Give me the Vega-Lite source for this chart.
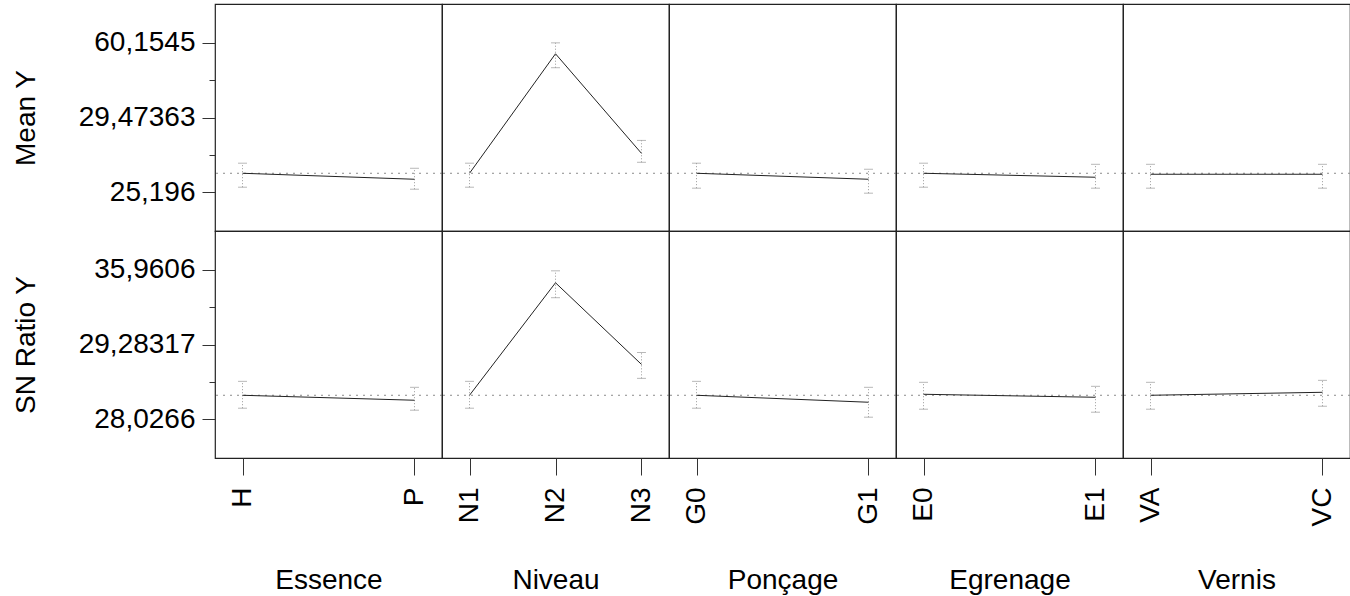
{
  "$schema": "https://vega.github.io/schema/vega-lite/v6.json",
  "padding": {"left": 11, "top": 3, "right": 0, "bottom": 0},
  "autosize": {"type": "pad"},
  "background": "white",
  "spacing": 0,
  "bounds": "flush",
  "columns": 5,
  "config": {
    "font": "Liberation Sans",
    "axis": {"labelFontSize": 28, "titleFontSize": 28, "titleFontWeight": "normal", "labelColor": "#000", "titleColor": "#000", "tickColor": "#333", "domain": false, "grid": false, "labelFont": "Liberation Sans", "titleFont": "Liberation Sans"},
    "view": {"stroke": "#222", "strokeWidth": 1.2},
    "concat": {"spacing": 0}
  },
  "datasets": {
    "overall": [
      {"measure": "Mean Y", "mean": 29.62},
      {"measure": "SN Ratio Y", "mean": 29.296}
    ],
    "means": [
      {"measure": "Mean Y", "factor": "Essence", "level": "H", "mean": 29.62, "lo": 26.36, "hi": 31.98},
      {"measure": "Mean Y", "factor": "Essence", "level": "P", "mean": 28.22, "lo": 25.89, "hi": 30.79},
      {"measure": "Mean Y", "factor": "Niveau", "level": "N1", "mean": 29.62, "lo": 26.36, "hi": 31.98},
      {"measure": "Mean Y", "factor": "Niveau", "level": "N2", "mean": 57.59, "lo": 54.33, "hi": 60.15},
      {"measure": "Mean Y", "factor": "Niveau", "level": "N3", "mean": 34.28, "lo": 32.19, "hi": 37.31},
      {"measure": "Mean Y", "factor": "Ponçage", "level": "G0", "mean": 29.62, "lo": 26.13, "hi": 31.98},
      {"measure": "Mean Y", "factor": "Ponçage", "level": "G1", "mean": 28.22, "lo": 24.96, "hi": 30.56},
      {"measure": "Mean Y", "factor": "Egrenage", "level": "E0", "mean": 29.62, "lo": 26.36, "hi": 31.98},
      {"measure": "Mean Y", "factor": "Egrenage", "level": "E1", "mean": 28.69, "lo": 26.13, "hi": 31.72},
      {"measure": "Mean Y", "factor": "Vernis", "level": "VA", "mean": 29.39, "lo": 26.13, "hi": 31.72},
      {"measure": "Mean Y", "factor": "Vernis", "level": "VC", "mean": 29.39, "lo": 26.13, "hi": 31.72},
      {"measure": "SN Ratio Y", "factor": "Essence", "level": "H", "mean": 29.296, "lo": 28.609, "hi": 30.036},
      {"measure": "SN Ratio Y", "factor": "Essence", "level": "P", "mean": 29.032, "lo": 28.503, "hi": 29.719},
      {"measure": "SN Ratio Y", "factor": "Niveau", "level": "N1", "mean": 29.296, "lo": 28.609, "hi": 30.036},
      {"measure": "SN Ratio Y", "factor": "Niveau", "level": "N2", "mean": 35.273, "lo": 34.48, "hi": 35.908},
      {"measure": "SN Ratio Y", "factor": "Niveau", "level": "N3", "mean": 30.936, "lo": 30.195, "hi": 31.57},
      {"measure": "SN Ratio Y", "factor": "Ponçage", "level": "G0", "mean": 29.296, "lo": 28.609, "hi": 30.036},
      {"measure": "SN Ratio Y", "factor": "Ponçage", "level": "G1", "mean": 28.926, "lo": 28.132, "hi": 29.719},
      {"measure": "SN Ratio Y", "factor": "Egrenage", "level": "E0", "mean": 29.349, "lo": 28.556, "hi": 29.984},
      {"measure": "SN Ratio Y", "factor": "Egrenage", "level": "E1", "mean": 29.19, "lo": 28.397, "hi": 29.772},
      {"measure": "SN Ratio Y", "factor": "Vernis", "level": "VA", "mean": 29.296, "lo": 28.556, "hi": 29.984},
      {"measure": "SN Ratio Y", "factor": "Vernis", "level": "VC", "mean": 29.455, "lo": 28.714, "hi": 30.089}
    ]
  },
  "resolve": {"scale": {"x": "independent", "y": "independent"}},
  "concat": [
        {
          "width": 227, "height": 227,
          "data": {"name": "means"},
          "encoding": {"y": {"field": "mean", "type": "quantitative", "scale": {"domain": [16.107, 69.2437], "nice": false, "zero": false},
            "axis": {"title": "Mean Y", "values": [25.196, 33.9356, 42.6753, 51.4149, 60.1545],
              "labelExpr": "datum.value == 25.196 ? '25,196' : datum.value == 42.6753 ? '29,47363' : datum.value == 60.1545 ? '60,1545' : ''",
              "tickSize": {"condition": {"test": "datum.value == 33.9356 || datum.value == 51.4149", "value": 6}, "value": 13},
              "labelPadding": 7, "titleX": -181, "titleY": 113.5, "titleBaseline": "alphabetic", "titleAlign": "center", "titleAngle": 270}}},
          "layer": [
            {"data": {"name": "overall"}, "transform": [{"filter": "datum.measure === 'Mean Y'"}], "mark": {"type": "rule", "color": "#8c8c8c", "strokeDash": [2, 5]}, "encoding": {}},
            {"transform": [{"filter": "datum.measure === 'Mean Y' && datum.factor === 'Essence'"}], "mark": {"type": "rule", "color": "#9a9a9a", "strokeDash": [1, 2]},
             "encoding": {"x": {"field": "level", "type": "ordinal", "scale": {"type": "point", "domain": ["H", "P"], "padding": 0.16}, "axis": null}, "y": {"field": "lo", "type": "quantitative"}, "y2": {"field": "hi"}}},
            {"transform": [{"filter": "datum.measure === 'Mean Y' && datum.factor === 'Essence'"}], "mark": {"type": "tick", "size": 9, "thickness": 1, "color": "#9a9a9a"},
             "encoding": {"x": {"field": "level", "type": "ordinal", "scale": {"type": "point", "domain": ["H", "P"], "padding": 0.16}, "axis": null}, "y": {"field": "lo", "type": "quantitative"}}},
            {"transform": [{"filter": "datum.measure === 'Mean Y' && datum.factor === 'Essence'"}], "mark": {"type": "tick", "size": 9, "thickness": 1, "color": "#9a9a9a"},
             "encoding": {"x": {"field": "level", "type": "ordinal", "scale": {"type": "point", "domain": ["H", "P"], "padding": 0.16}, "axis": null}, "y": {"field": "hi", "type": "quantitative"}}},
            {"transform": [{"filter": "datum.measure === 'Mean Y' && datum.factor === 'Essence'"}], "mark": {"type": "line", "color": "#222", "strokeWidth": 1},
             "encoding": {"x": {"field": "level", "type": "ordinal", "scale": {"type": "point", "domain": ["H", "P"], "padding": 0.16}, "axis": null}}}
          ]
        },
        {
          "width": 227, "height": 227,
          "data": {"name": "means"},
          "encoding": {"y": {"field": "mean", "type": "quantitative", "scale": {"domain": [16.107, 69.2437], "nice": false, "zero": false}, "axis": null}},
          "layer": [
            {"data": {"name": "overall"}, "transform": [{"filter": "datum.measure === 'Mean Y'"}], "mark": {"type": "rule", "color": "#8c8c8c", "strokeDash": [2, 5]}, "encoding": {}},
            {"transform": [{"filter": "datum.measure === 'Mean Y' && datum.factor === 'Niveau'"}], "mark": {"type": "rule", "color": "#9a9a9a", "strokeDash": [1, 2]},
             "encoding": {"x": {"field": "level", "type": "ordinal", "scale": {"type": "point", "domain": ["N1", "N2", "N3"], "padding": 0.32}, "axis": null}, "y": {"field": "lo", "type": "quantitative", "axis": null}, "y2": {"field": "hi"}}},
            {"transform": [{"filter": "datum.measure === 'Mean Y' && datum.factor === 'Niveau'"}], "mark": {"type": "tick", "size": 9, "thickness": 1, "color": "#9a9a9a"},
             "encoding": {"x": {"field": "level", "type": "ordinal", "scale": {"type": "point", "domain": ["N1", "N2", "N3"], "padding": 0.32}, "axis": null}, "y": {"field": "lo", "type": "quantitative", "axis": null}}},
            {"transform": [{"filter": "datum.measure === 'Mean Y' && datum.factor === 'Niveau'"}], "mark": {"type": "tick", "size": 9, "thickness": 1, "color": "#9a9a9a"},
             "encoding": {"x": {"field": "level", "type": "ordinal", "scale": {"type": "point", "domain": ["N1", "N2", "N3"], "padding": 0.32}, "axis": null}, "y": {"field": "hi", "type": "quantitative", "axis": null}}},
            {"transform": [{"filter": "datum.measure === 'Mean Y' && datum.factor === 'Niveau'"}], "mark": {"type": "line", "color": "#222", "strokeWidth": 1},
             "encoding": {"x": {"field": "level", "type": "ordinal", "scale": {"type": "point", "domain": ["N1", "N2", "N3"], "padding": 0.32}, "axis": null}}}
          ]
        },
        {
          "width": 227, "height": 227,
          "data": {"name": "means"},
          "encoding": {"y": {"field": "mean", "type": "quantitative", "scale": {"domain": [16.107, 69.2437], "nice": false, "zero": false}, "axis": null}},
          "layer": [
            {"data": {"name": "overall"}, "transform": [{"filter": "datum.measure === 'Mean Y'"}], "mark": {"type": "rule", "color": "#8c8c8c", "strokeDash": [2, 5]}, "encoding": {}},
            {"transform": [{"filter": "datum.measure === 'Mean Y' && datum.factor === 'Ponçage'"}], "mark": {"type": "rule", "color": "#9a9a9a", "strokeDash": [1, 2]},
             "encoding": {"x": {"field": "level", "type": "ordinal", "scale": {"type": "point", "domain": ["G0", "G1"], "padding": 0.16}, "axis": null}, "y": {"field": "lo", "type": "quantitative", "axis": null}, "y2": {"field": "hi"}}},
            {"transform": [{"filter": "datum.measure === 'Mean Y' && datum.factor === 'Ponçage'"}], "mark": {"type": "tick", "size": 9, "thickness": 1, "color": "#9a9a9a"},
             "encoding": {"x": {"field": "level", "type": "ordinal", "scale": {"type": "point", "domain": ["G0", "G1"], "padding": 0.16}, "axis": null}, "y": {"field": "lo", "type": "quantitative", "axis": null}}},
            {"transform": [{"filter": "datum.measure === 'Mean Y' && datum.factor === 'Ponçage'"}], "mark": {"type": "tick", "size": 9, "thickness": 1, "color": "#9a9a9a"},
             "encoding": {"x": {"field": "level", "type": "ordinal", "scale": {"type": "point", "domain": ["G0", "G1"], "padding": 0.16}, "axis": null}, "y": {"field": "hi", "type": "quantitative", "axis": null}}},
            {"transform": [{"filter": "datum.measure === 'Mean Y' && datum.factor === 'Ponçage'"}], "mark": {"type": "line", "color": "#222", "strokeWidth": 1},
             "encoding": {"x": {"field": "level", "type": "ordinal", "scale": {"type": "point", "domain": ["G0", "G1"], "padding": 0.16}, "axis": null}}}
          ]
        },
        {
          "width": 227, "height": 227,
          "data": {"name": "means"},
          "encoding": {"y": {"field": "mean", "type": "quantitative", "scale": {"domain": [16.107, 69.2437], "nice": false, "zero": false}, "axis": null}},
          "layer": [
            {"data": {"name": "overall"}, "transform": [{"filter": "datum.measure === 'Mean Y'"}], "mark": {"type": "rule", "color": "#8c8c8c", "strokeDash": [2, 5]}, "encoding": {}},
            {"transform": [{"filter": "datum.measure === 'Mean Y' && datum.factor === 'Egrenage'"}], "mark": {"type": "rule", "color": "#9a9a9a", "strokeDash": [1, 2]},
             "encoding": {"x": {"field": "level", "type": "ordinal", "scale": {"type": "point", "domain": ["E0", "E1"], "padding": 0.16}, "axis": null}, "y": {"field": "lo", "type": "quantitative", "axis": null}, "y2": {"field": "hi"}}},
            {"transform": [{"filter": "datum.measure === 'Mean Y' && datum.factor === 'Egrenage'"}], "mark": {"type": "tick", "size": 9, "thickness": 1, "color": "#9a9a9a"},
             "encoding": {"x": {"field": "level", "type": "ordinal", "scale": {"type": "point", "domain": ["E0", "E1"], "padding": 0.16}, "axis": null}, "y": {"field": "lo", "type": "quantitative", "axis": null}}},
            {"transform": [{"filter": "datum.measure === 'Mean Y' && datum.factor === 'Egrenage'"}], "mark": {"type": "tick", "size": 9, "thickness": 1, "color": "#9a9a9a"},
             "encoding": {"x": {"field": "level", "type": "ordinal", "scale": {"type": "point", "domain": ["E0", "E1"], "padding": 0.16}, "axis": null}, "y": {"field": "hi", "type": "quantitative", "axis": null}}},
            {"transform": [{"filter": "datum.measure === 'Mean Y' && datum.factor === 'Egrenage'"}], "mark": {"type": "line", "color": "#222", "strokeWidth": 1},
             "encoding": {"x": {"field": "level", "type": "ordinal", "scale": {"type": "point", "domain": ["E0", "E1"], "padding": 0.16}, "axis": null}}}
          ]
        },
        {
          "width": 227, "height": 227,
          "data": {"name": "means"},
          "encoding": {"y": {"field": "mean", "type": "quantitative", "scale": {"domain": [16.107, 69.2437], "nice": false, "zero": false}, "axis": null}},
          "layer": [
            {"data": {"name": "overall"}, "transform": [{"filter": "datum.measure === 'Mean Y'"}], "mark": {"type": "rule", "color": "#8c8c8c", "strokeDash": [2, 5]}, "encoding": {}},
            {"transform": [{"filter": "datum.measure === 'Mean Y' && datum.factor === 'Vernis'"}], "mark": {"type": "rule", "color": "#9a9a9a", "strokeDash": [1, 2]},
             "encoding": {"x": {"field": "level", "type": "ordinal", "scale": {"type": "point", "domain": ["VA", "VC"], "padding": 0.16}, "axis": null}, "y": {"field": "lo", "type": "quantitative", "axis": null}, "y2": {"field": "hi"}}},
            {"transform": [{"filter": "datum.measure === 'Mean Y' && datum.factor === 'Vernis'"}], "mark": {"type": "tick", "size": 9, "thickness": 1, "color": "#9a9a9a"},
             "encoding": {"x": {"field": "level", "type": "ordinal", "scale": {"type": "point", "domain": ["VA", "VC"], "padding": 0.16}, "axis": null}, "y": {"field": "lo", "type": "quantitative", "axis": null}}},
            {"transform": [{"filter": "datum.measure === 'Mean Y' && datum.factor === 'Vernis'"}], "mark": {"type": "tick", "size": 9, "thickness": 1, "color": "#9a9a9a"},
             "encoding": {"x": {"field": "level", "type": "ordinal", "scale": {"type": "point", "domain": ["VA", "VC"], "padding": 0.16}, "axis": null}, "y": {"field": "hi", "type": "quantitative", "axis": null}}},
            {"transform": [{"filter": "datum.measure === 'Mean Y' && datum.factor === 'Vernis'"}], "mark": {"type": "line", "color": "#222", "strokeWidth": 1},
             "encoding": {"x": {"field": "level", "type": "ordinal", "scale": {"type": "point", "domain": ["VA", "VC"], "padding": 0.16}, "axis": null}}}
          ]
        },
        {
          "width": 227, "height": 227,
          "data": {"name": "means"},
          "encoding": {"y": {"field": "mean", "type": "quantitative", "scale": {"domain": [25.9638, 38.0234], "nice": false, "zero": false},
            "axis": {"title": "SN Ratio Y", "values": [28.0266, 30.0101, 31.9936, 33.9771, 35.9606],
              "labelExpr": "datum.value == 28.0266 ? '28,0266' : datum.value == 31.9936 ? '29,28317' : datum.value == 35.9606 ? '35,9606' : ''",
              "tickSize": {"condition": {"test": "datum.value == 30.0101 || datum.value == 33.9771", "value": 6}, "value": 13},
              "labelPadding": 7, "titleX": -181, "titleY": 113.5, "titleBaseline": "alphabetic", "titleAlign": "center", "titleAngle": 270}}},
          "layer": [
            {"data": {"name": "overall"}, "transform": [{"filter": "datum.measure === 'SN Ratio Y'"}], "mark": {"type": "rule", "color": "#8c8c8c", "strokeDash": [2, 5]}, "encoding": {}},
            {"transform": [{"filter": "datum.measure === 'SN Ratio Y' && datum.factor === 'Essence'"}], "mark": {"type": "rule", "color": "#9a9a9a", "strokeDash": [1, 2]},
             "encoding": {"x": {"field": "level", "type": "ordinal", "scale": {"type": "point", "domain": ["H", "P"], "padding": 0.16}, "axis": {"title": "Essence", "labelAngle": 270, "tickSize": 17, "labelPadding": 12, "titleY": 130, "titleBaseline": "alphabetic"}}, "y": {"field": "lo", "type": "quantitative"}, "y2": {"field": "hi"}}},
            {"transform": [{"filter": "datum.measure === 'SN Ratio Y' && datum.factor === 'Essence'"}], "mark": {"type": "tick", "size": 9, "thickness": 1, "color": "#9a9a9a"},
             "encoding": {"x": {"field": "level", "type": "ordinal", "scale": {"type": "point", "domain": ["H", "P"], "padding": 0.16}}, "y": {"field": "lo", "type": "quantitative"}}},
            {"transform": [{"filter": "datum.measure === 'SN Ratio Y' && datum.factor === 'Essence'"}], "mark": {"type": "tick", "size": 9, "thickness": 1, "color": "#9a9a9a"},
             "encoding": {"x": {"field": "level", "type": "ordinal", "scale": {"type": "point", "domain": ["H", "P"], "padding": 0.16}}, "y": {"field": "hi", "type": "quantitative"}}},
            {"transform": [{"filter": "datum.measure === 'SN Ratio Y' && datum.factor === 'Essence'"}], "mark": {"type": "line", "color": "#222", "strokeWidth": 1},
             "encoding": {"x": {"field": "level", "type": "ordinal", "scale": {"type": "point", "domain": ["H", "P"], "padding": 0.16}}}}
          ]
        },
        {
          "width": 227, "height": 227,
          "data": {"name": "means"},
          "encoding": {"y": {"field": "mean", "type": "quantitative", "scale": {"domain": [25.9638, 38.0234], "nice": false, "zero": false}, "axis": null}},
          "layer": [
            {"data": {"name": "overall"}, "transform": [{"filter": "datum.measure === 'SN Ratio Y'"}], "mark": {"type": "rule", "color": "#8c8c8c", "strokeDash": [2, 5]}, "encoding": {}},
            {"transform": [{"filter": "datum.measure === 'SN Ratio Y' && datum.factor === 'Niveau'"}], "mark": {"type": "rule", "color": "#9a9a9a", "strokeDash": [1, 2]},
             "encoding": {"x": {"field": "level", "type": "ordinal", "scale": {"type": "point", "domain": ["N1", "N2", "N3"], "padding": 0.32}, "axis": {"title": "Niveau", "labelAngle": 270, "tickSize": 17, "labelPadding": 12, "titleY": 130, "titleBaseline": "alphabetic"}}, "y": {"field": "lo", "type": "quantitative", "axis": null}, "y2": {"field": "hi"}}},
            {"transform": [{"filter": "datum.measure === 'SN Ratio Y' && datum.factor === 'Niveau'"}], "mark": {"type": "tick", "size": 9, "thickness": 1, "color": "#9a9a9a"},
             "encoding": {"x": {"field": "level", "type": "ordinal", "scale": {"type": "point", "domain": ["N1", "N2", "N3"], "padding": 0.32}}, "y": {"field": "lo", "type": "quantitative", "axis": null}}},
            {"transform": [{"filter": "datum.measure === 'SN Ratio Y' && datum.factor === 'Niveau'"}], "mark": {"type": "tick", "size": 9, "thickness": 1, "color": "#9a9a9a"},
             "encoding": {"x": {"field": "level", "type": "ordinal", "scale": {"type": "point", "domain": ["N1", "N2", "N3"], "padding": 0.32}}, "y": {"field": "hi", "type": "quantitative", "axis": null}}},
            {"transform": [{"filter": "datum.measure === 'SN Ratio Y' && datum.factor === 'Niveau'"}], "mark": {"type": "line", "color": "#222", "strokeWidth": 1},
             "encoding": {"x": {"field": "level", "type": "ordinal", "scale": {"type": "point", "domain": ["N1", "N2", "N3"], "padding": 0.32}}}}
          ]
        },
        {
          "width": 227, "height": 227,
          "data": {"name": "means"},
          "encoding": {"y": {"field": "mean", "type": "quantitative", "scale": {"domain": [25.9638, 38.0234], "nice": false, "zero": false}, "axis": null}},
          "layer": [
            {"data": {"name": "overall"}, "transform": [{"filter": "datum.measure === 'SN Ratio Y'"}], "mark": {"type": "rule", "color": "#8c8c8c", "strokeDash": [2, 5]}, "encoding": {}},
            {"transform": [{"filter": "datum.measure === 'SN Ratio Y' && datum.factor === 'Ponçage'"}], "mark": {"type": "rule", "color": "#9a9a9a", "strokeDash": [1, 2]},
             "encoding": {"x": {"field": "level", "type": "ordinal", "scale": {"type": "point", "domain": ["G0", "G1"], "padding": 0.16}, "axis": {"title": "Ponçage", "labelAngle": 270, "tickSize": 17, "labelPadding": 12, "titleY": 130, "titleBaseline": "alphabetic"}}, "y": {"field": "lo", "type": "quantitative", "axis": null}, "y2": {"field": "hi"}}},
            {"transform": [{"filter": "datum.measure === 'SN Ratio Y' && datum.factor === 'Ponçage'"}], "mark": {"type": "tick", "size": 9, "thickness": 1, "color": "#9a9a9a"},
             "encoding": {"x": {"field": "level", "type": "ordinal", "scale": {"type": "point", "domain": ["G0", "G1"], "padding": 0.16}}, "y": {"field": "lo", "type": "quantitative", "axis": null}}},
            {"transform": [{"filter": "datum.measure === 'SN Ratio Y' && datum.factor === 'Ponçage'"}], "mark": {"type": "tick", "size": 9, "thickness": 1, "color": "#9a9a9a"},
             "encoding": {"x": {"field": "level", "type": "ordinal", "scale": {"type": "point", "domain": ["G0", "G1"], "padding": 0.16}}, "y": {"field": "hi", "type": "quantitative", "axis": null}}},
            {"transform": [{"filter": "datum.measure === 'SN Ratio Y' && datum.factor === 'Ponçage'"}], "mark": {"type": "line", "color": "#222", "strokeWidth": 1},
             "encoding": {"x": {"field": "level", "type": "ordinal", "scale": {"type": "point", "domain": ["G0", "G1"], "padding": 0.16}}}}
          ]
        },
        {
          "width": 227, "height": 227,
          "data": {"name": "means"},
          "encoding": {"y": {"field": "mean", "type": "quantitative", "scale": {"domain": [25.9638, 38.0234], "nice": false, "zero": false}, "axis": null}},
          "layer": [
            {"data": {"name": "overall"}, "transform": [{"filter": "datum.measure === 'SN Ratio Y'"}], "mark": {"type": "rule", "color": "#8c8c8c", "strokeDash": [2, 5]}, "encoding": {}},
            {"transform": [{"filter": "datum.measure === 'SN Ratio Y' && datum.factor === 'Egrenage'"}], "mark": {"type": "rule", "color": "#9a9a9a", "strokeDash": [1, 2]},
             "encoding": {"x": {"field": "level", "type": "ordinal", "scale": {"type": "point", "domain": ["E0", "E1"], "padding": 0.16}, "axis": {"title": "Egrenage", "labelAngle": 270, "tickSize": 17, "labelPadding": 12, "titleY": 130, "titleBaseline": "alphabetic"}}, "y": {"field": "lo", "type": "quantitative", "axis": null}, "y2": {"field": "hi"}}},
            {"transform": [{"filter": "datum.measure === 'SN Ratio Y' && datum.factor === 'Egrenage'"}], "mark": {"type": "tick", "size": 9, "thickness": 1, "color": "#9a9a9a"},
             "encoding": {"x": {"field": "level", "type": "ordinal", "scale": {"type": "point", "domain": ["E0", "E1"], "padding": 0.16}}, "y": {"field": "lo", "type": "quantitative", "axis": null}}},
            {"transform": [{"filter": "datum.measure === 'SN Ratio Y' && datum.factor === 'Egrenage'"}], "mark": {"type": "tick", "size": 9, "thickness": 1, "color": "#9a9a9a"},
             "encoding": {"x": {"field": "level", "type": "ordinal", "scale": {"type": "point", "domain": ["E0", "E1"], "padding": 0.16}}, "y": {"field": "hi", "type": "quantitative", "axis": null}}},
            {"transform": [{"filter": "datum.measure === 'SN Ratio Y' && datum.factor === 'Egrenage'"}], "mark": {"type": "line", "color": "#222", "strokeWidth": 1},
             "encoding": {"x": {"field": "level", "type": "ordinal", "scale": {"type": "point", "domain": ["E0", "E1"], "padding": 0.16}}}}
          ]
        },
        {
          "width": 227, "height": 227,
          "data": {"name": "means"},
          "encoding": {"y": {"field": "mean", "type": "quantitative", "scale": {"domain": [25.9638, 38.0234], "nice": false, "zero": false}, "axis": null}},
          "layer": [
            {"data": {"name": "overall"}, "transform": [{"filter": "datum.measure === 'SN Ratio Y'"}], "mark": {"type": "rule", "color": "#8c8c8c", "strokeDash": [2, 5]}, "encoding": {}},
            {"transform": [{"filter": "datum.measure === 'SN Ratio Y' && datum.factor === 'Vernis'"}], "mark": {"type": "rule", "color": "#9a9a9a", "strokeDash": [1, 2]},
             "encoding": {"x": {"field": "level", "type": "ordinal", "scale": {"type": "point", "domain": ["VA", "VC"], "padding": 0.16}, "axis": {"title": "Vernis", "labelAngle": 270, "tickSize": 17, "labelPadding": 12, "titleY": 130, "titleBaseline": "alphabetic"}}, "y": {"field": "lo", "type": "quantitative", "axis": null}, "y2": {"field": "hi"}}},
            {"transform": [{"filter": "datum.measure === 'SN Ratio Y' && datum.factor === 'Vernis'"}], "mark": {"type": "tick", "size": 9, "thickness": 1, "color": "#9a9a9a"},
             "encoding": {"x": {"field": "level", "type": "ordinal", "scale": {"type": "point", "domain": ["VA", "VC"], "padding": 0.16}}, "y": {"field": "lo", "type": "quantitative", "axis": null}}},
            {"transform": [{"filter": "datum.measure === 'SN Ratio Y' && datum.factor === 'Vernis'"}], "mark": {"type": "tick", "size": 9, "thickness": 1, "color": "#9a9a9a"},
             "encoding": {"x": {"field": "level", "type": "ordinal", "scale": {"type": "point", "domain": ["VA", "VC"], "padding": 0.16}}, "y": {"field": "hi", "type": "quantitative", "axis": null}}},
            {"transform": [{"filter": "datum.measure === 'SN Ratio Y' && datum.factor === 'Vernis'"}], "mark": {"type": "line", "color": "#222", "strokeWidth": 1},
             "encoding": {"x": {"field": "level", "type": "ordinal", "scale": {"type": "point", "domain": ["VA", "VC"], "padding": 0.16}}}}
          ]
        }
  ]
}
